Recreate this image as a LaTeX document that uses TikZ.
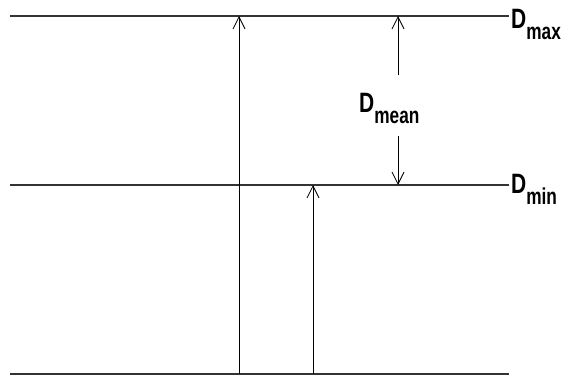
\documentclass[tikz,border=0pt]{standalone}
\usepackage{fontspec}
\setmainfont{Liberation Sans}[FakeStretch=0.75]
\usetikzlibrary{arrows.meta}
\tikzset{
  level/.style={line width=1.6pt,color=black!80},
  rise/.style={line width=0.9pt,-{Straight Barb[length=12pt,width=12pt,line width=0.8pt]}},
  dlabel/.style={anchor=base west,inner sep=0pt,font=\bfseries\fontsize{28}{28}\selectfont}
}
\newcommand{\sublabel}[1]{\raisebox{-11pt}{\fontsize{23}{23}\selectfont #1}}
\begin{document}
\begin{tikzpicture}[x=1pt,y=1pt]
	\useasboundingbox (0,0) rectangle (563,376);
	% the three levels
	\coordinate (maxL) at (10,360);  \coordinate (maxR) at (509,360);
	\coordinate (minL) at (10,191);  \coordinate (minR) at (509,191);
	\coordinate (baseL) at (10,2);   \coordinate (baseR) at (509,2);
	\draw[level] (maxL) -- (maxR);
	\draw[level] (minL) -- (minR);
	\draw[level] (baseL) -- (baseR);

	\node[dlabel] (dmax) at (511,348) {D\sublabel{max}};
	\node[dlabel] (dmin) at (511,183) {D\sublabel{min}};
	\node[dlabel] (dmean) at (359,264) {D\sublabel{mean}};

	% rising arrows from the base
	\coordinate (footA) at (239,2);
	\coordinate (footB) at (313,2);
	\draw[rise] (footA) -- (footA |- maxL);
	\draw[rise] (footB) -- (footB |- minL);

	% span of the mean
	\coordinate (meanTop) at (398,301);
	\coordinate (meanBot) at (398,240);
	\draw[rise] (meanTop) -- (meanTop |- maxL);
	\draw[rise] (meanBot) -- (meanBot |- minL);
	%\draw[rise] (dmean) -- (398,360);
\end{tikzpicture}
\end{document}
